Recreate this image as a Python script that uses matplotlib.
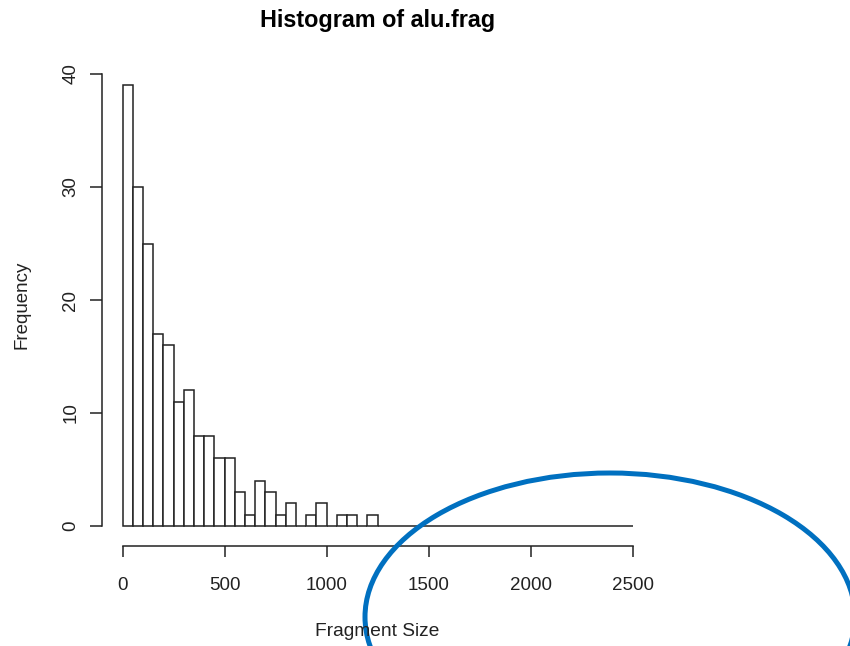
import matplotlib
matplotlib.use("Agg")
import matplotlib.pyplot as plt
from matplotlib.patches import Ellipse

plt.rcParams['font.family'] = ['Liberation Sans', 'DejaVu Sans']

# Histogram data (bins of width 50 from 0 to 2500)
bin_width = 50
bin_edges_start = list(range(0, 2500, 50))
counts = [39, 30, 25, 17, 16, 11, 12, 8, 8, 6,
          6, 3, 1, 4, 3, 1, 2, 0, 1, 2,
          0, 1, 1, 0, 1, 0, 0, 0, 0, 0,
          0, 0, 0, 0, 0, 0, 0, 0, 0, 0,
          0, 0, 0, 0, 0, 0, 0, 0, 0, 0]
x_ticks = [0, 500, 1000, 1500, 2000, 2500]
y_ticks = [0, 10, 20, 30, 40]
title = "Histogram of alu.frag"
xlabel = "Fragment Size"
ylabel = "Frequency"

W, H = 850, 646
fig = plt.figure(figsize=(W / 100, H / 100), dpi=100)
fig.patch.set_facecolor('white')

left_px, right_px = 102.3, 653.0
bottom_px, top_px = 546.0, 67.7
ax = fig.add_axes([left_px / W, 1 - bottom_px / H,
                   (right_px - left_px) / W, (bottom_px - top_px) / H])

line_col = '#222222'
ax.bar(bin_edges_start, counts, width=bin_width, align='edge',
       facecolor='white', edgecolor=line_col, linewidth=1.1)

ax.set_xlim(-100, 2600)
ax.set_ylim(-1.77, 40.56)

for s in ['top', 'right']:
    ax.spines[s].set_visible(False)
ax.spines['left'].set_bounds(0, 40)
ax.spines['bottom'].set_bounds(0, 2500)
for s in ['left', 'bottom']:
    ax.spines[s].set_linewidth(1.1)
    ax.spines[s].set_color(line_col)

ax.set_xticks(x_ticks)
ax.set_xticklabels([str(v) for v in x_ticks])
ax.set_yticks(y_ticks)
ax.set_yticklabels([str(v) for v in y_ticks], rotation=90, va='center')
ax.tick_params(axis='x', length=8, width=1.1, color=line_col, pad=14.0,
               labelsize=13.5, labelcolor='#222222')
ax.tick_params(axis='y', length=8.3, width=1.1, color=line_col, pad=8.3,
               labelsize=13.5, labelcolor='#222222')

fig.text(377.5 / W, 1 - 20 / H, title, ha='center', va='center',
         fontsize=16.8, fontweight='bold', color='black')
fig.text(377.5 / W, 1 - 632 / H, xlabel, ha='center', va='center',
         fontsize=13.8, color='#222222')
fig.text(22 / W, 1 - 305 / H, ylabel, ha='center', va='center',
         rotation=90, fontsize=13.5, color='#222222')

# Blue annotation ellipse
ell = Ellipse((610 / W, 1 - 617 / H), 490 / W, 288 / H,
              transform=fig.transFigure, fill=False,
              edgecolor='#0070C0', linewidth=3.6, clip_on=False)
fig.add_artist(ell)

fig.savefig('out.png', dpi=100, facecolor='white')
